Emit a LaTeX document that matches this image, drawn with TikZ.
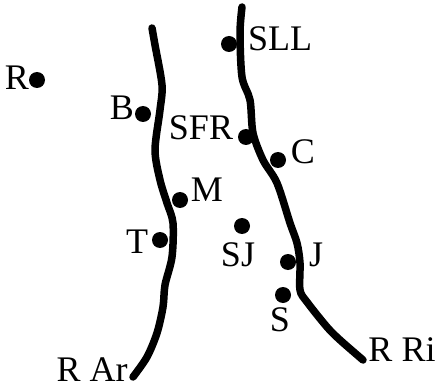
\documentclass[tikz,border=0pt]{standalone}
\usepackage{fontspec}
\setmainfont{Liberation Serif}
\usetikzlibrary{positioning}
\tikzset{x=1pt,y=-1pt}
\tikzset{site/.style={circle,fill=black,inner sep=0pt,minimum size=16pt}}
\tikzset{tag/.style={inner sep=0pt,font=\fontsize{36}{42}\selectfont}}
\tikzset{river/.style={line width=7.5pt,line cap=round,line join=round}}

\begin{document}
\begin{tikzpicture}
    \useasboundingbox (0,0) rectangle (436,390);
    \draw [river] plot [smooth] coordinates {(152,28) (155,45) (162,85) (160,110) (155,150) (160,180) (167,203) (173,223) (172,257) (165,285) (163,307) (157,333) (147,357) (133,377)};
    \draw [river] plot [smooth] coordinates {(242,7) (240,33) (242,77) (250,100) (253,133) (263,160) (277,183) (290,223) (297,243) (300,263) (300,290) (307,302) (327,327) (340,340) (363,360)};
    \node [site] (r) at (37,80) {};
    \node [site] (b) at (143,114) {};
    \node [site] (sll) at (229,44) {};
    \node [site] (sfr) at (246,137) {};
    \node [site] (c) at (278,160) {};
    \node [site] (m) at (180,200) {};
    \node [site] (t) at (160,240) {};
    \node [site] (sj) at (242,226) {};
    \node [site] (j) at (288,262) {};
    \node [site] (s) at (283,295) {};
    \node [tag] (r-tag) at (17,78) {R};
    \node [tag] (b-tag) at (122,108) {B};
    \node [tag] (sll-tag) at (280,39) {SLL};
    \node [tag] (sfr-tag) at (201,128) {SFR};
    \node [tag] (c-tag) at (303,152) {C};
    \node [tag] (m-tag) at (207,190) {M};
    \node [tag] (t-tag) at (137,242) {T};
    \node [tag] (sj-tag) at (238,255) {SJ};
    \node [tag] (j-tag) at (316,255) {J};
    \node [tag] (s-tag) at (280,320) {S};
    \node [tag] (rar-tag) at (92,370) {R Ar};
    \node [tag] (rri-tag) at (402,350) {R Ri};
  \end{tikzpicture}
\end{document}
